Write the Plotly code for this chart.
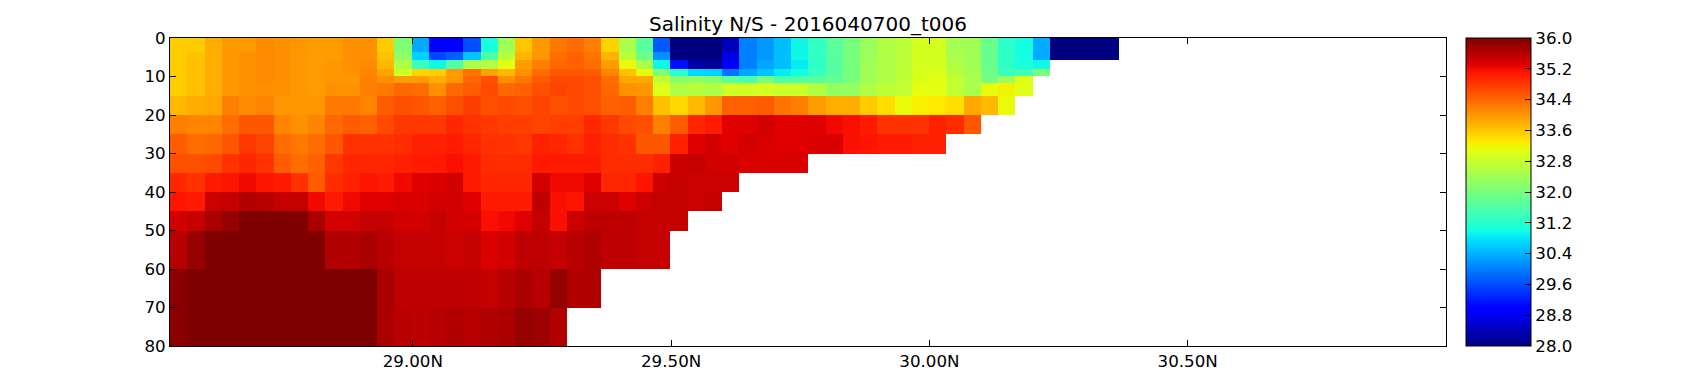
import plotly.graph_objects as go

# salinity, one list per depth layer, west to east
# lists stop where the section hits the bottom
depth_edges = [0, 3.6, 5.8, 8, 9.8, 11.8, 15, 20, 25, 30, 35, 40, 45, 50, 60, 70, 80]

layer_00 = [33.55, 33.55, 33.8, 33.98, 33.98, 34.1, 34.05, 34.0, 33.95, 33.95, 34.05, 34.05, 33.55, 32.1, 30.34, 28.9, 28.9, 29.6, 31.05,
            32.4, 33.6, 33.98, 34.25, 34.35, 34.2, 33.5, 32.5, 31.7, 29.7, 28.0, 28.0, 28.0, 28.4, 30.0, 30.2, 30.5, 30.95, 31.3,
            31.7, 32.0, 32.35, 32.55, 32.7, 32.95, 32.95, 32.45, 32.4, 31.85, 31.25, 31.0, 30.35, 28.0, 28.0, 28.0, 28.0]
layer_01 = [33.55, 33.65, 33.8, 34.0, 34.05, 34.1, 34.05, 34.0, 33.95, 33.95, 34.05, 34.05, 33.65, 32.25, 30.65, 29.55, 29.75, 30.55, 31.6,
            32.65, 33.75, 34.0, 34.35, 34.45, 34.3, 33.75, 32.7, 31.9, 30.15, 28.0, 28.0, 28.0, 28.7, 30.0, 30.2, 30.5, 30.95, 31.3,
            31.7, 32.0, 32.35, 32.55, 32.7, 32.95, 32.95, 32.5, 32.4, 31.85, 31.25, 31.0, 30.35, 28.0, 28.0, 28.0, 28.0]
layer_02 = [33.55, 33.65, 33.8, 34.0, 34.05, 34.1, 34.05, 34.0, 33.95, 34.0, 34.05, 34.1, 33.72, 32.55, 31.35, 30.95, 31.6, 32.5, 32.6,
            33.1, 33.95, 34.2, 34.4, 34.45, 34.35, 33.95, 33.15, 32.5, 30.95, 29.1, 28.3, 28.15, 28.85, 30.0, 30.3, 30.5, 30.85, 31.25,
            31.65, 32.0, 32.4, 32.55, 32.7, 32.95, 32.95, 32.6, 32.4, 31.85, 31.3, 31.05, 30.95]
layer_03 = [33.55, 33.65, 33.8, 34.0, 34.05, 34.1, 34.05, 34.0, 33.95, 34.0, 34.05, 34.15, 33.9, 32.9, 33.5, 33.55, 33.98, 34.3, 33.9,
            33.72, 34.05, 34.35, 34.55, 34.55, 34.5, 34.15, 33.65, 33.15, 32.1, 31.2, 30.7, 30.65, 29.9, 30.3, 30.55, 30.85, 31.0, 31.35,
            31.7, 32.0, 32.4, 32.55, 32.7, 32.95, 33.0, 32.65, 32.45, 31.9, 31.4, 31.45, 32.0]
layer_04 = [33.55, 33.65, 33.8, 34.0, 34.05, 34.1, 34.05, 34.0, 33.95, 34.0, 34.0, 34.2, 34.05, 33.95, 33.95, 33.8, 33.98, 34.4, 34.6,
            34.05, 34.25, 34.5, 34.65, 34.65, 34.6, 34.35, 33.85, 33.85, 32.75, 32.2, 32.25, 32.15, 31.7, 31.5, 32.0, 31.55, 31.6, 31.7,
            31.8, 32.0, 32.4, 32.55, 32.75, 33.0, 33.05, 32.8, 32.5, 31.95, 32.35, 33.05]
layer_05 = [33.55, 33.65, 33.8, 34.0, 34.05, 34.05, 34.05, 34.0, 33.95, 34.05, 34.05, 34.2, 34.25, 34.4, 34.35, 34.05, 34.4, 34.5, 34.65,
            34.4, 34.45, 34.6, 34.7, 34.65, 34.6, 34.4, 34.05, 34.0, 33.05, 32.55, 32.65, 32.55, 32.9, 32.9, 32.95, 32.85, 32.85, 32.6,
            32.3, 32.3, 32.55, 32.7, 32.75, 33.1, 33.1, 32.75, 32.5, 33.15, 33.2, 33.05]
layer_06 = [33.7, 33.8, 33.85, 34.2, 34.1, 34.15, 34.0, 34.0, 34.0, 34.25, 34.25, 34.15, 34.5, 34.6, 34.55, 34.45, 34.6, 34.75, 34.6,
            34.65, 34.6, 34.7, 34.6, 34.65, 34.6, 34.45, 34.5, 34.2, 33.65, 33.45, 33.7, 34.0, 34.45, 34.45, 34.5, 34.3, 34.2, 33.95,
            33.8, 33.8, 33.55, 33.4, 33.15, 33.25, 33.3, 33.4, 33.85, 33.7, 33.15]
layer_07 = [34.2, 34.15, 34.15, 34.35, 34.55, 34.55, 34.15, 34.05, 34.15, 34.4, 34.5, 34.45, 34.65, 34.8, 34.8, 34.8, 34.95, 34.85, 34.8,
            34.75, 34.75, 34.7, 34.75, 34.75, 34.95, 34.8, 34.65, 34.6, 34.2, 34.5, 34.95, 35.05, 35.3, 35.3, 35.4, 35.3, 35.3, 35.3,
            35.2, 35.15, 35.05, 34.85, 34.85, 34.85, 35.0, 34.9, 34.55]
layer_08 = [34.5, 34.35, 34.4, 34.55, 34.8, 34.7, 34.35, 34.25, 34.35, 34.55, 34.85, 34.85, 34.85, 34.9, 35.0, 35.0, 35.05, 34.95, 34.85,
            34.85, 34.8, 35.0, 34.95, 34.85, 35.0, 34.9, 34.85, 34.55, 34.55, 35.0, 35.3, 35.4, 35.3, 35.4, 35.35, 35.3, 35.3, 35.35,
            35.35, 35.15, 35.1, 35.05, 35.05, 35.0, 35.0]
layer_09 = [34.6, 34.6, 34.65, 34.85, 34.95, 34.85, 34.5, 34.35, 34.45, 34.8, 34.95, 34.95, 34.95, 35.0, 35.05, 35.05, 35.15, 35.05, 34.9,
            34.9, 34.9, 35.05, 35.05, 35.05, 35.05, 34.9, 34.9, 34.9, 35.0, 35.47, 35.5, 35.4, 35.4, 35.35, 35.35, 35.35, 35.35]
layer_10 = [34.95, 34.85, 35.05, 35.1, 35.2, 35.1, 35.05, 34.85, 34.5, 34.9, 35.0, 35.1, 35.05, 35.2, 35.3, 35.35, 35.4, 35.05, 34.95,
            34.95, 34.95, 35.4, 35.2, 35.2, 35.3, 34.95, 34.95, 35.1, 35.45, 35.5, 35.45, 35.45, 35.45]
layer_11 = [35.1, 35.05, 35.45, 35.5, 35.65, 35.6, 35.5, 35.5, 35.2, 35.05, 35.2, 35.3, 35.3, 35.35, 35.35, 35.4, 35.4, 35.3, 35.05,
            35.05, 35.05, 35.55, 35.15, 35.1, 35.45, 35.45, 35.3, 35.45, 35.5, 35.5, 35.45, 35.5]
layer_12 = [35.4, 35.5, 35.7, 35.85, 36.0, 36.0, 36.0, 36.0, 35.7, 35.4, 35.4, 35.5, 35.5, 35.4, 35.4, 35.5, 35.4, 35.4, 35.15,
            35.2, 35.3, 35.5, 35.15, 35.45, 35.55, 35.55, 35.55, 35.5, 35.5, 35.5]
layer_13 = [35.6, 35.82, 36.0, 36.0, 36.0, 36.0, 36.0, 36.0, 36.0, 35.65, 35.65, 35.7, 35.6, 35.5, 35.5, 35.5, 35.45, 35.5, 35.35,
            35.4, 35.55, 35.55, 35.5, 35.6, 35.65, 35.55, 35.55, 35.5, 35.5]
layer_14 = [35.93, 36.0, 36.0, 36.0, 36.0, 36.0, 36.0, 36.0, 36.0, 36.0, 36.0, 36.0, 35.7, 35.55, 35.55, 35.55, 35.55, 35.55, 35.5,
            35.6, 35.7, 35.6, 35.85, 35.65, 35.65]
layer_15 = [35.93, 36.0, 36.0, 36.0, 36.0, 36.0, 36.0, 36.0, 36.0, 36.0, 36.0, 36.0, 35.7, 35.6, 35.55, 35.6, 35.65, 35.6, 35.65,
            35.7, 35.85, 35.8, 35.65]

layers = [layer_00, layer_01, layer_02, layer_03, layer_04, layer_05, layer_06, layer_07,
          layer_08, layer_09, layer_10, layer_11, layer_12, layer_13, layer_14, layer_15]

lat_start = 28.53
lat_step = 0.0334
n_cols = 55
lat_edges = [lat_start + i * lat_step for i in range(n_cols + 1)]

x_tickvals = [29.0, 29.5, 30.0, 30.5]
x_ticktext = ["29.00N", "29.50N", "30.00N", "30.50N"]
y_tickvals = [0, 10, 20, 30, 40, 50, 60, 70, 80]
cbar_ticks = [28.0, 28.8, 29.6, 30.4, 31.2, 32.0, 32.8, 33.6, 34.4, 35.2, 36.0]

# matplotlib jet
jet = [
    [0.0, "rgb(0,0,128)"],
    [0.11, "rgb(0,0,255)"],
    [0.125, "rgb(0,0,255)"],
    [0.34, "rgb(0,219,255)"],
    [0.35, "rgb(0,229,247)"],
    [0.375, "rgb(20,255,226)"],
    [0.64, "rgb(230,255,13)"],
    [0.65, "rgb(239,245,0)"],
    [0.66, "rgb(255,236,0)"],
    [0.89, "rgb(255,18,0)"],
    [0.91, "rgb(228,0,0)"],
    [1.0, "rgb(128,0,0)"],
]

z = [row + [None] * (n_cols - len(row)) for row in layers]

font = "DejaVu Sans"

# the page body has an 8px margin, so everything is placed 8px up and left
fig = go.Figure()
fig.add_trace(go.Heatmap(
    x=lat_edges, y=depth_edges, z=z,
    colorscale=jet, zmin=28, zmax=36,
    hoverongaps=False,
    colorbar=dict(
        xref="container", x=1458 / 1692, xanchor="left", xpad=0,
        yref="paper", y=0.5, yanchor="middle", ypad=0,
        thickness=65, thicknessmode="pixels",
        len=1, lenmode="fraction",
        outlinecolor="black", outlinewidth=1,
        tickmode="array", tickvals=cbar_ticks,
        ticktext=["%.1f" % t for t in cbar_ticks],
        ticks="inside", ticklen=6, tickcolor="black", tickwidth=1,
        tickfont=dict(family=font, size=16.7, color="black"),
    ),
))

fig.update_layout(
    width=1692, height=376,
    margin=dict(l=162, r=254, t=30, b=38),
    paper_bgcolor="white", plot_bgcolor="white",
    title=dict(
        text="Salinity N/S - 2016040700_t006",
        x=800 / 1692, xanchor="center", xref="container",
        y=1 - 16 / 376, yanchor="middle", yref="container",
        font=dict(family=font, size=20, color="black"),
    ),
    xaxis=dict(
        range=[28.53, 31.0], tickmode="array", tickvals=x_tickvals, ticktext=x_ticktext,
        ticks="inside", ticklen=6, tickcolor="black", tickwidth=1,
        showline=True, linecolor="black", linewidth=1, mirror="allticks",
        showgrid=False, zeroline=False,
        tickfont=dict(family=font, size=16.7, color="black"),
    ),
    yaxis=dict(
        range=[80, 0], tickmode="array", tickvals=y_tickvals,
        ticks="inside", ticklen=6, tickcolor="black", tickwidth=1,
        showline=True, linecolor="black", linewidth=1, mirror="allticks",
        showgrid=False, zeroline=False,
        tickfont=dict(family=font, size=16.7, color="black"),
    ),
)

fig.write_html("out.html")
